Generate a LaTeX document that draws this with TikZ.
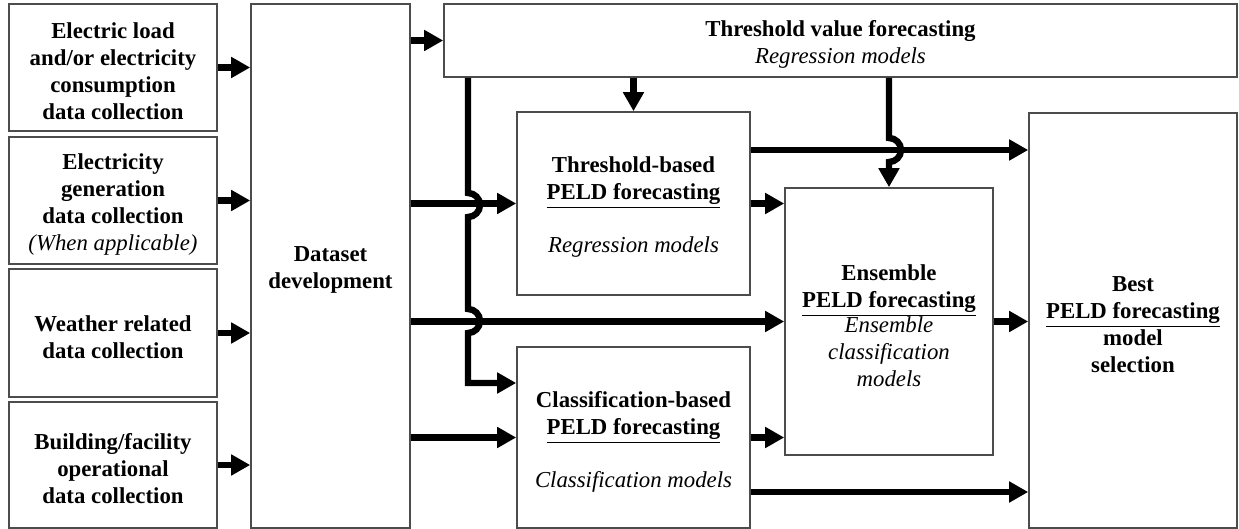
\documentclass[tikz,border=0pt]{standalone}
\usepackage{fontspec}
\setmainfont{Liberation Serif}
\usetikzlibrary{arrows.meta,fit}
\newcommand\modeltext[1]{{\mdseries\itshape #1}}
\begin{document}
\begin{tikzpicture}[x=0.5pt,y=-0.5pt,
  box/.style={draw=black!70, line width=0.8pt, inner sep=0pt},
  lbl/.style={inner sep=0pt, align=center, yshift=-2pt,
    font=\fontsize{11.4}{13.5}\selectfont\bfseries},
  flow/.style={line width=3.2pt, -{Triangle[length=9.5pt,width=10pt]}},
]
\useasboundingbox (0,0) rectangle (1239,529);

% boxes
\node[box, fit={(9,4) (217,131)}] (in1) {};
\node[box, fit={(9,137) (217,264)}] (in2) {};
\node[box, fit={(9,269) (217,397)}] (in3) {};
\node[box, fit={(9,402) (217,528)}] (in4) {};
\node[box, fit={(251,4) (410,528)}] (ds) {};
\node[box, fit={(444,4) (1237,77)}] (tv) {};
\node[box, fit={(517,112) (750,295)}] (tb) {};
\node[box, fit={(517,347) (750,528)}] (cl) {};
\node[box, fit={(785,188) (993,455)}] (ens) {};
\node[box, fit={(1029,113) (1237,528)}] (best) {};

% box texts
\node[lbl] (in1t) at (in1.center)
  {Electric load\\and/or electricity\\consumption\\data collection};
\node[lbl] (in2t) at (in2.center)
  {Electricity\\generation\\data collection\\\modeltext{(When applicable)}};
\node[lbl] (in3t) at (in3.center) {Weather related\\data collection};
\node[lbl] (in4t) at (in4.center)
  {Building/facility\\operational\\data collection};
\node[lbl] (dst) at (ds.center) {Dataset\\development};
\node[lbl] (tvt) at (tv.center)
  {Threshold value forecasting\\\modeltext{Regression models}};
\node[lbl] (tbt) at (tb.center)
  {Threshold-based\\\underline{PELD forecasting}\\[13pt]\modeltext{Regression models}};
\node[lbl] (clt) at (cl.center)
  {Classification-based\\\underline{PELD forecasting}\\[13pt]\modeltext{Classification models}};
\node[lbl] (enst) at (ens.center)
  {Ensemble\\\underline{PELD forecasting}\\[-1pt]\modeltext{Ensemble}\\\modeltext{classification}\\\modeltext{models}};
\node[lbl] (bestt) at (best.center)
  {Best\\\underline{PELD forecasting}\\model\\selection};

% inputs to dataset
\foreach \n in {in1,in2,in3,in4}
  \draw[flow] (\n.east) -- (\n.east -| ds.west);

% dataset outputs
\draw[flow] (ds.east |- tv.west) -- (tv.west);
\draw[flow] (ds.east |- tb.west) -- (tb.west);
\draw[flow] (ds.east |- ens.west) -- (ens.west);
\draw[flow] (ds.east |- cl.west) -- (cl.west);

% threshold value to threshold-based forecasting
\draw[flow] (tv.south -| tb.north) -- (tb.north);

% threshold value to classification-based forecasting, hopping over two lines
\draw[flow] (tv.south -| 468,0) -- (468,193)
  arc[start angle=90, end angle=-90, radius=6pt] -- (468,309)
  arc[start angle=90, end angle=-90, radius=6pt] -- (468,383)
  -- (cl.west |- 0,383);

% threshold value to ensemble, hopping over one line
\draw[flow] (tv.south -| ens.north) -- (ens.north |- 0,138)
  arc[start angle=90, end angle=-90, radius=6pt] -- (ens.north);

% forecasting stages to ensemble and to model selection
\draw[flow] (tb.east) -- (tb.east -| ens.west);
\draw[flow] (cl.east) -- (cl.east -| ens.west);
\draw[flow] (tb.east |- 0,150) -- (best.west |- 0,150);
\draw[flow] (ens.east) -- (ens.east -| best.west);
\draw[flow] (cl.east |- 0,492) -- (best.west |- 0,492);
\end{tikzpicture}
\end{document}
